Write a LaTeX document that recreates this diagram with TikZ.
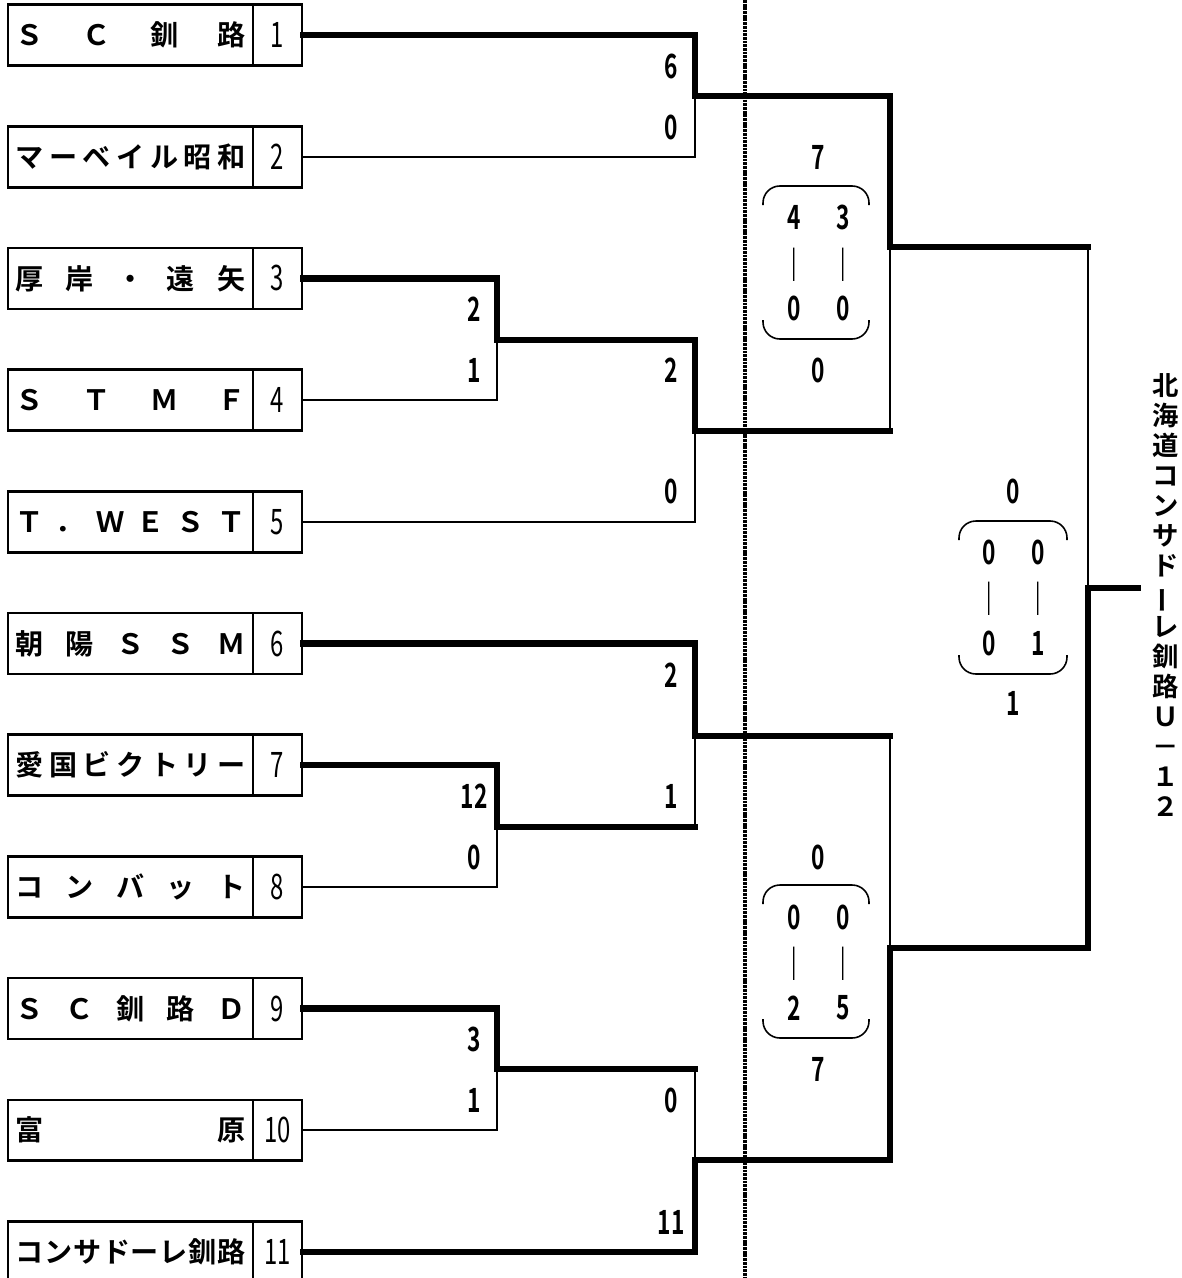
\documentclass[tikz,border=0pt]{standalone}
\usepackage{fontspec}
\usepackage{graphicx}
\setmainfont{Noto Sans CJK JP}[BoldFont={Noto Sans CJK JP Bold}]
\newfontfamily\narrowfont{Noto Sans CJK JP}[FakeStretch=0.68,BoldFont={Noto Sans CJK JP Bold}]
\newcommand{\spreadname}[1]{\makebox[4.6cm][s]{#1}}
\tikzset{
  teambox/.style={draw,line width=1.5pt,minimum width=4.9cm,minimum height=1.22cm,inner sep=0pt,font=\bfseries\fontsize{16}{16}\selectfont},
  seedbox/.style={draw,line width=1.5pt,minimum width=0.98cm,minimum height=1.22cm,inner sep=0pt,font=\narrowfont\fontsize{20}{20}\selectfont},
  win/.style={line width=3.6pt,line cap=rect},
  lose/.style={line width=1.2pt,line cap=rect},
  score/.style={inner sep=0pt,font=\narrowfont\bfseries\fontsize{19}{19}\selectfont},
  bar/.style={inner sep=0pt,font=\fontsize{19}{19}\selectfont},
  brace/.style={line width=0.9pt,rounded corners=9.6pt},
  divider/.style={line width=2pt,dash pattern=on 1.6pt off 0.5pt},
}

\begin{document}
\begin{tikzpicture}[x=0.02cm,y=-0.02cm]
  \useasboundingbox (0,0) rectangle (1181,1278);
  % centre line
  \coordinate (dtop) at (745,0);
  \coordinate (dbot) at (745,1278);
  \draw[divider] (dtop) -- (dbot);

  % teams
  \node[teambox] (t1) at (130.5,35) {\spreadname{Ｓ\hfill Ｃ\hfill 釧\hfill 路}};
  \node[seedbox] (n1) at (277.5,35) {1};
  \node[teambox] (t2) at (130.5,156.7) {\spreadname{マ\hfill ー\hfill ベ\hfill イ\hfill ル\hfill 昭\hfill 和}};
  \node[seedbox] (n2) at (277.5,156.7) {2};
  \node[teambox] (t3) at (130.5,278.4) {\spreadname{厚\hfill 岸\hfill ・\hfill 遠\hfill 矢}};
  \node[seedbox] (n3) at (277.5,278.4) {3};
  \node[teambox] (t4) at (130.5,400.1) {\spreadname{Ｓ\hfill Ｔ\hfill Ｍ\hfill Ｆ}};
  \node[seedbox] (n4) at (277.5,400.1) {4};
  \node[teambox] (t5) at (130.5,521.8) {\spreadname{Ｔ\hfill ．\hfill Ｗ\hfill Ｅ\hfill Ｓ\hfill Ｔ}};
  \node[seedbox] (n5) at (277.5,521.8) {5};
  \node[teambox] (t6) at (130.5,643.5) {\spreadname{朝\hfill 陽\hfill Ｓ\hfill Ｓ\hfill Ｍ}};
  \node[seedbox] (n6) at (277.5,643.5) {6};
  \node[teambox] (t7) at (130.5,765.2) {\spreadname{愛\hfill 国\hfill ビ\hfill ク\hfill ト\hfill リ\hfill ー}};
  \node[seedbox] (n7) at (277.5,765.2) {7};
  \node[teambox] (t8) at (130.5,886.9) {\spreadname{コ\hfill ン\hfill バ\hfill ッ\hfill ト}};
  \node[seedbox] (n8) at (277.5,886.9) {8};
  \node[teambox] (t9) at (130.5,1008.6) {\spreadname{Ｓ\hfill Ｃ\hfill 釧\hfill 路\hfill Ｄ}};
  \node[seedbox] (n9) at (277.5,1008.6) {9};
  \node[teambox] (t10) at (130.5,1130.3) {\spreadname{富\hfill 原}};
  \node[seedbox] (n10) at (277.5,1130.3) {10};
  \node[teambox] (t11) at (130.5,1252) {\spreadname{コ\hfill ン\hfill サ\hfill ド\hfill ー\hfill レ\hfill 釧\hfill 路}};
  \node[seedbox] (n11) at (277.5,1252) {11};

  % meeting points
  \coordinate (j12) at (695,96);
  \coordinate (j34) at (497,340);
  \coordinate (j345) at (695,431);
  \coordinate (ja) at (890,247);
  \coordinate (j78) at (497,827);
  \coordinate (j678) at (695,736);
  \coordinate (j910) at (497,1069);
  \coordinate (j1011) at (695,1160);
  \coordinate (jb) at (890,948);
  \coordinate (jf) at (1088,588);
  \coordinate (champ) at (1138,588);

  % upper half
  \draw[win] (n1.east) -| (j12);
  \draw[lose] (n2.east) -| (j12);
  \draw[win] (n3.east) -| (j34);
  \draw[lose] (n4.east) -| (j34);
  \draw[win] (j34) -| (j345);
  \draw[lose] (n5.east) -| (j345);
  \draw[win] (j12) -| (ja);
  \draw[win] (j345) -- (j345 -| ja);
  \draw[lose] (j345 -| ja) -- (ja);
  % lower half
  \draw[win] (n6.east) -| (j678);
  \draw[win] (n7.east) -| (j78);
  \draw[lose] (n8.east) -| (j78);
  \draw[win] (j78) -- (j78 -| j678);
  \draw[lose] (j78 -| j678) -- (j678);
  \draw[win] (n9.east) -| (j910);
  \draw[lose] (n10.east) -| (j910);
  \draw[win] (j910) -- (j910 -| j1011);
  \draw[lose] (j910 -| j1011) -- (j1011);
  \draw[win] (n11.east) -| (j1011);
  \draw[win] (j678) -- (j678 -| jb);
  \draw[lose] (j678 -| jb) -- (jb);
  \draw[win] (j1011) -| (jb);
  % final
  \draw[win] (ja) -- (ja -| jf);
  \draw[lose] (ja -| jf) -- (jf);
  \draw[win] (jb) -| (jf);
  \draw[win] (jf) -- (champ);

  % first round scores
  \node[score] (s1a) at (671,66) {6};
  \node[score] (s1b) at (671,127) {0};
  \node[score] (s2a) at (474,309) {2};
  \node[score] (s2b) at (474,370) {1};
  \node[score] (s3a) at (671,370) {2};
  \node[score] (s3b) at (671,491) {0};
  \node[score] (s4a) at (671,675) {2};
  \node[score] (s4b) at (671,796) {1};
  \node[score] (s5a) at (474,796) {12};
  \node[score] (s5b) at (474,857) {0};
  \node[score] (s6a) at (474,1039) {3};
  \node[score] (s6b) at (474,1100) {1};
  \node[score] (s7a) at (671,1100) {0};
  \node[score] (s7b) at (671,1222) {11};

  % semi final, upper
  \node[score] (ua) at (818,157) {7};
  \node[score] (ub) at (818,370) {0};
  \node[score] (u1) at (794,217) {4};
  \node[score] (u2) at (843,217) {3};
  \node[bar] (ub1) at (794,265) {｜};
  \node[bar] (ub2) at (843,265) {｜};
  \node[score] (u3) at (794,308) {0};
  \node[score] (u4) at (843,308) {0};
  \draw[brace] (763,205) -- (763,186) -- (869,186) -- (869,205);
  \draw[brace] (763,320) -- (763,339) -- (869,339) -- (869,320);

  % semi final, lower
  \node[score] (la) at (818,857) {0};
  \node[score] (lb) at (818,1069) {7};
  \node[score] (l1) at (794,917) {0};
  \node[score] (l2) at (843,917) {0};
  \node[bar] (lb1) at (794,964) {｜};
  \node[bar] (lb2) at (843,964) {｜};
  \node[score] (l3) at (794,1008) {2};
  \node[score] (l4) at (843,1008) {5};
  \draw[brace] (763,904) -- (763,885) -- (869,885) -- (869,904);
  \draw[brace] (763,1019) -- (763,1038) -- (869,1038) -- (869,1019);

  % final score
  \node[score] (fa) at (1013,491) {0};
  \node[score] (fb) at (1013,703) {1};
  \node[score] (f1) at (989,552) {0};
  \node[score] (f2) at (1038,552) {0};
  \node[bar] (fb1) at (989,599) {｜};
  \node[bar] (fb2) at (1038,599) {｜};
  \node[score] (f3) at (989,643) {0};
  \node[score] (f4) at (1038,643) {1};
  \draw[brace] (959,540) -- (959,521) -- (1067,521) -- (1067,540);
  \draw[brace] (959,655) -- (959,674) -- (1067,674) -- (1067,655);

  % champion
  \node[align=center,inner sep=0pt,font=\bfseries\fontsize{15}{17.1}\selectfont] (winner) at (1166,595)
    {北\\海\\道\\コ\\ン\\サ\\ド\\\rotatebox[origin=c]{90}{ー}\\レ\\釧\\路\\Ｕ\\－\\１\\２};
\end{tikzpicture}
\end{document}
